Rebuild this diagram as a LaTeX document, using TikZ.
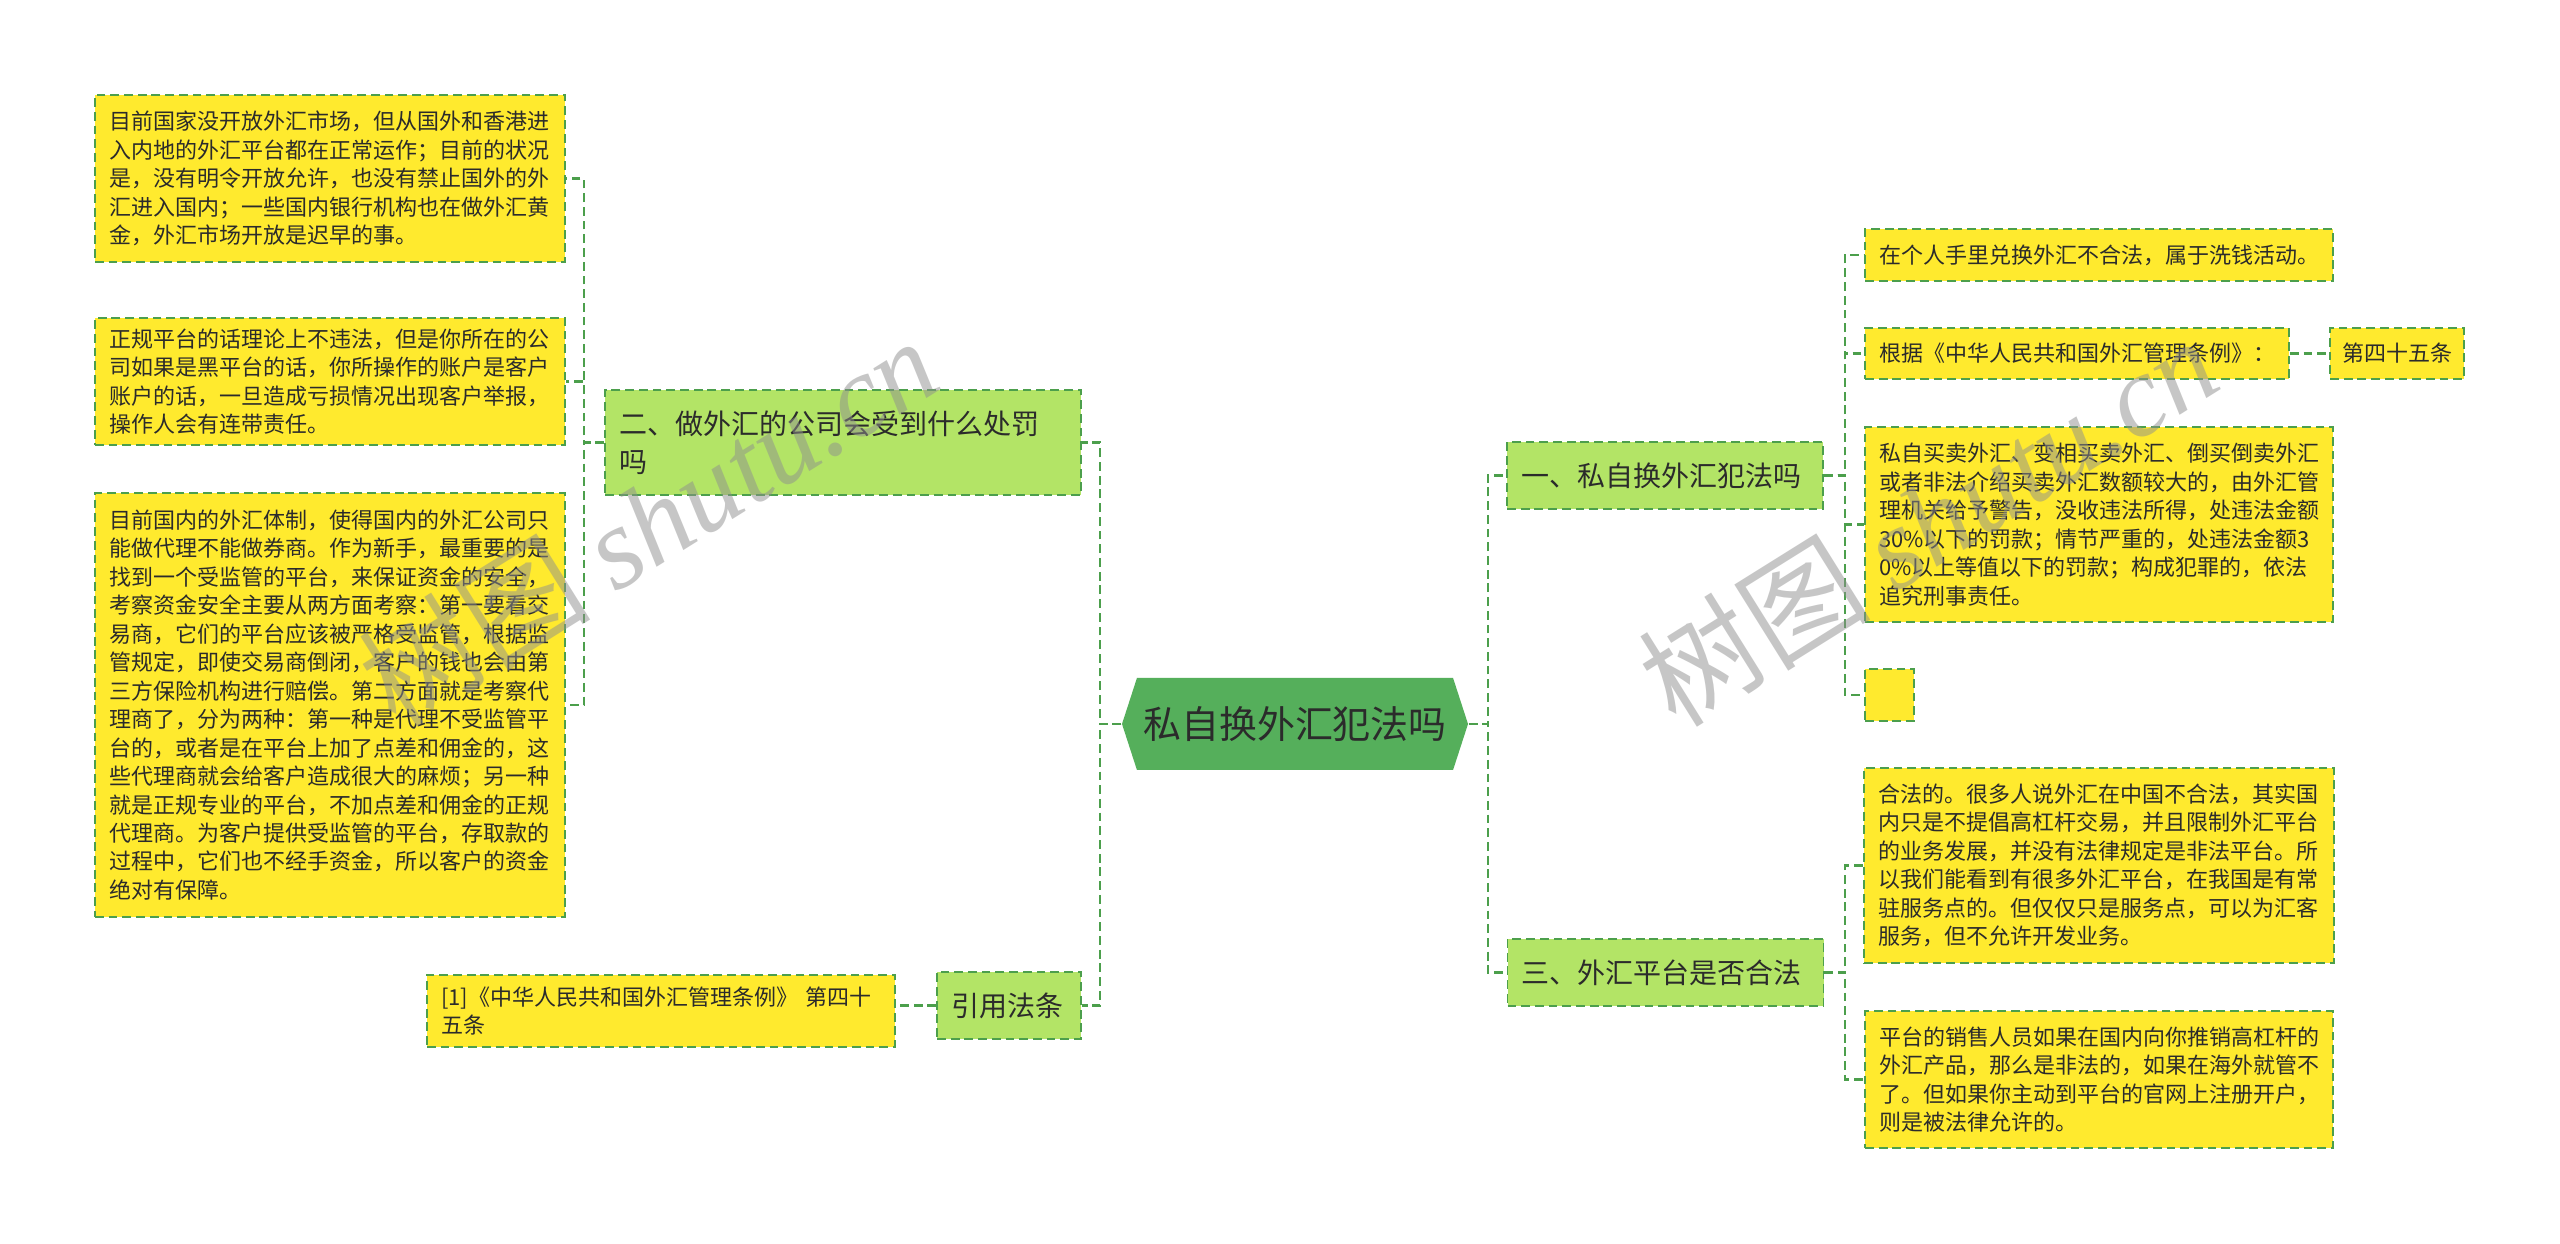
\documentclass[tikz,border=0pt]{standalone}
\usepackage{fontspec,tikz}
\usetikzlibrary{shapes.symbols}
\setmainfont{Noto Sans CJK SC}
\newfontfamily\markserif{Liberation Serif}
\definecolor{rootgreen}{HTML}{55AF5B}
\definecolor{topicgreen}{HTML}{B3E466}
\definecolor{leafyellow}{HTML}{FFEA2E}
\definecolor{edgegreen}{HTML}{4C9F4C}
\definecolor{inktext}{HTML}{2B2B2B}
\definecolor{markgray}{HTML}{8F8F8F}
\begin{document}
\begin{tikzpicture}[every node/.style={text=inktext},
  box/.style={draw=edgegreen,line width=.45pt,dash pattern=on 2.5pt off 1.4pt,align=left,inner xsep=.14cm,inner ysep=0pt},
  leaf/.style={box,fill=leafyellow,font=\fontsize{6.26pt}{8.1pt}\selectfont},
  topic/.style={box,fill=topicgreen,font=\fontsize{7.97pt}{10.8pt}\selectfont},
  link/.style={draw=edgegreen,line width=.6pt,dash pattern=on 2.5pt off 1.4pt},
  watermark/.style={rotate=32,text=markgray,opacity=.5,font=\fontsize{33pt}{33pt}\selectfont}]
\fill[white] (0,0) rectangle (25.6,12.44);
\useasboundingbox (0,0) rectangle (25.6,12.44);
% Centre and the two branches on either side.
\node[shape=signal,signal to=east and west,signal pointer angle=144,fill=rootgreen,minimum width=3.46cm,minimum height=.92cm,inner sep=0pt,font=\fontsize{10.8pt}{12pt}\selectfont] (root) at (12.95,5.20) {私自换外汇犯法吗};
\node[topic,text width=4.48cm,minimum height=1.05cm] (two) at (8.43,8.015) {二、做外汇的公司会受到什么处罚\\吗};
\node[topic,text width=1.16cm,minimum height=.67cm] (cite) at (10.09,2.385) {引用法条};
\node[topic,text width=2.88cm,minimum height=.67cm] (one) at (16.65,7.685) {一、私自换外汇犯法吗};
\node[topic,text width=2.88cm,minimum height=.67cm] (three) at (16.655,2.715) {三、外汇平台是否合法};
% Left leaves.
\node[leaf,text width=4.42cm,minimum height=1.67cm] (la) at (3.30,10.655) {目前国家没开放外汇市场，但从国外和香港进\\入内地的外汇平台都在正常运作；目前的状况\\是，没有明令开放允许，也没有禁止国外的外\\汇进入国内；一些国内银行机构也在做外汇黄\\金，外汇市场开放是迟早的事。};
\node[leaf,text width=4.42cm,minimum height=1.27cm] (lb) at (3.30,8.625) {正规平台的话理论上不违法，但是你所在的公\\司如果是黑平台的话，你所操作的账户是客户\\账户的话，一旦造成亏损情况出现客户举报，\\操作人会有连带责任。};
\node[leaf,text width=4.42cm,minimum height=4.24cm] (lc) at (3.30,5.39) {目前国内的外汇体制，使得国内的外汇公司只\\能做代理不能做券商。作为新手，最重要的是\\找到一个受监管的平台，来保证资金的安全，\\考察资金安全主要从两方面考察：第一要看交\\易商，它们的平台应该被严格受监管，根据监\\管规定，即使交易商倒闭，客户的钱也会由第\\三方保险机构进行赔偿。第二方面就是考察代\\理商了，分为两种：第一种是代理不受监管平\\台的，或者是在平台上加了点差和佣金的，这\\些代理商就会给客户造成很大的麻烦；另一种\\就是正规专业的平台，不加点差和佣金的正规\\代理商。为客户提供受监管的平台，存取款的\\过程中，它们也不经手资金，所以客户的资金\\绝对有保障。};
\node[leaf,text width=4.40cm,minimum height=.72cm] (citeleaf) at (6.61,2.33) {[1]《中华人民共和国外汇管理条例》 第四十\\五条};
% Right leaves.
\node[leaf,text width=4.40cm,minimum height=.52cm] (ra) at (20.99,9.89) {在个人手里兑换外汇不合法，属于洗钱活动。};
\node[leaf,text width=3.96cm,minimum height=.51cm] (rb) at (20.77,8.905) {根据《中华人民共和国外汇管理条例》：};
\node[leaf,inner xsep=.12cm,text width=1.10cm,minimum height=.51cm] (rbx) at (23.97,8.905) {第四十五条};
\node[leaf,text width=4.40cm,minimum height=1.95cm] (rc) at (20.99,7.195) {私自买卖外汇、变相买卖外汇、倒买倒卖外汇\\或者非法介绍买卖外汇数额较大的，由外汇管\\理机关给予警告，没收违法所得，处违法金额\\30\%以下的罚款；情节严重的，处违法金额3\\0\%以上等值以下的罚款；构成犯罪的，依法\\追究刑事责任。};
\node[leaf,minimum width=.49cm,minimum height=.52cm] (rd) at (18.895,5.49) {};
\node[leaf,text width=4.42cm,minimum height=1.95cm] (re) at (20.99,3.785) {合法的。很多人说外汇在中国不合法，其实国\\内只是不提倡高杠杆交易，并且限制外汇平台\\的业务发展，并没有法律规定是非法平台。所\\以我们能看到有很多外汇平台，在我国是有常\\驻服务点的。但仅仅只是服务点，可以为汇客\\服务，但不允许开发业务。};
\node[leaf,text width=4.40cm,minimum height=1.37cm] (rf) at (20.99,1.645) {平台的销售人员如果在国内向你推销高杠杆的\\外汇产品，那么是非法的，如果在海外就管不\\了。但如果你主动到平台的官网上注册开户，\\则是被法律允许的。};
% Connectors.
\foreach \topic in {two,cite}{\draw[link] (root.west) -- ++(-.21,0) |- (\topic.east);}
\foreach \topic in {one,three}{\draw[link] (root.east) -- ++(.19,0) |- (\topic.west);}
\foreach \leaf in {la,lb,lc}{\draw[link] (two.west) -- ++(-.20,0) |- (\leaf.east);}
\draw[link] (cite.west) -- (cite.west -| citeleaf.east);
\foreach \leaf in {ra,rb,rc,rd}{\draw[link] (one.east) -- ++(.21,0) |- (\leaf.west);}
\draw[link] (rb.east) -- (rbx.west);
\foreach \leaf in {re,rf}{\draw[link] (three.east) -- ++(.21,0) |- (\leaf.west);}
% Watermarks.
\node[watermark] (markleft) at (6.48,7.23) {树图 {\markserif\itshape shutu.cn}};
\node[watermark] (markright) at (19.28,7.23) {树图 {\markserif\itshape shutu.cn}};
\end{tikzpicture}
\end{document}
